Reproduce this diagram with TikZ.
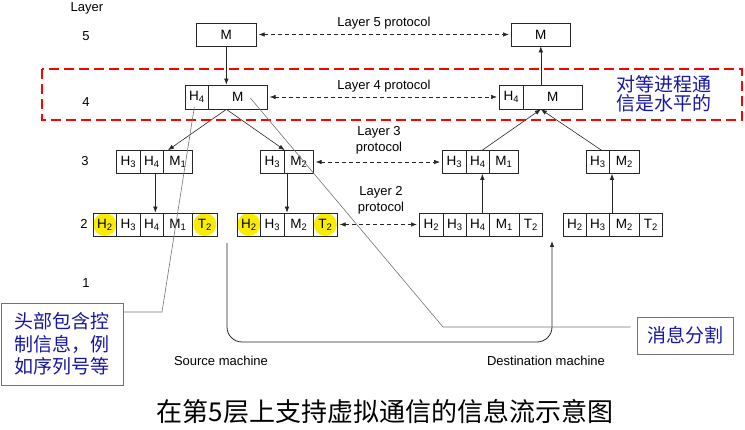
\documentclass[tikz,border=0pt]{standalone}
\usepackage{fontspec}
\setmainfont{Liberation Sans}
\newfontfamily\cjk{Noto Sans CJK SC}
\usetikzlibrary{arrows.meta,calc,backgrounds}
\definecolor{cnblue}{RGB}{22,22,165}
\definecolor{hl}{RGB}{250,236,0}
\definecolor{peerred}{RGB}{255,0,0}
\begin{document}
\begin{tikzpicture}[x=1pt,y=-1pt,
  cell/.style={draw=black!85, line width=0.7pt, minimum height=23pt, inner sep=0pt, anchor=west, font=\fontsize{13.5}{14}\selectfont},
  lbl/.style={font=\fontsize{13}{15}\selectfont, align=center, inner sep=0pt},
  arr/.style={-{Latex[length=6pt,width=4.5pt]}, line width=0.6pt, draw=black!85},
  dbl/.style={{Latex[length=6pt,width=4.5pt]}-{Latex[length=6pt,width=4.5pt]}, dash pattern=on 4pt off 3pt, line width=0.6pt, draw=black!85, shorten <=2pt, shorten >=2pt},
  lead/.style={draw=black!55, line width=0.6pt},
  callout/.style={draw=black!55, line width=0.8pt, text=cnblue, align=center, inner sep=0pt, font=\cjk\fontsize{19}{22.5}\selectfont},
  cnlabel/.style={text=cnblue, align=center, inner sep=0pt, font=\cjk\fontsize{19}{18.5}\selectfont}
]
\useasboundingbox (0,0) rectangle (745,430);

% layer labels
\node[lbl] (lay) at (87,8) {Layer};
\node[lbl] (n5) at (86,36) {5};
\node[lbl] (n4) at (86,102) {4};
\node[lbl] (n3) at (85,161) {3};
\node[lbl] (n2) at (84,224) {2};
\node[lbl] (n1) at (86,283) {1};

% layer 5
\node[cell, minimum width=60pt] (l5a) at (196,34.5) {M};
\node[cell, minimum width=59pt] (l5b) at (511,34.5) {M};

% layer 4
\node[cell, minimum width=23pt, minimum height=24pt] (l4aH) at (185,97) {H\textsubscript{4}};
\node[cell, minimum width=59pt, minimum height=24pt] (l4aM) at (208,97) {M};
\node[cell, minimum width=24pt, minimum height=24pt] (l4bH) at (499,97) {H\textsubscript{4}};
\node[cell, minimum width=59pt, minimum height=24pt] (l4bM) at (523,97) {M};

% layer 3
\begin{scope}[every node/.append style={minimum height=22pt}]
\node[cell, minimum width=24pt] (l3aH3) at (116,162) {H\textsubscript{3}};
\node[cell, minimum width=23pt] (l3aH4) at (140,162) {H\textsubscript{4}};
\node[cell, minimum width=29pt] (l3aM) at (163,162) {M\textsubscript{1}};
\node[cell, minimum width=24pt] (l3bH3) at (260,162) {H\textsubscript{3}};
\node[cell, minimum width=29pt] (l3bM) at (284,162) {M\textsubscript{2}};
\node[cell, minimum width=24pt] (l3cH3) at (442,162) {H\textsubscript{3}};
\node[cell, minimum width=23pt] (l3cH4) at (466,162) {H\textsubscript{4}};
\node[cell, minimum width=29pt] (l3cM) at (489,162) {M\textsubscript{1}};
\node[cell, minimum width=23pt] (l3dH3) at (586,162) {H\textsubscript{3}};
\node[cell, minimum width=30pt] (l3dM) at (609,162) {M\textsubscript{2}};
\end{scope}

% layer 2
\node[cell, minimum width=23pt] (l2aH2) at (93,224.5) {H\textsubscript{2}};
\node[cell, minimum width=24pt] (l2aH3) at (116,224.5) {H\textsubscript{3}};
\node[cell, minimum width=23pt] (l2aH4) at (140,224.5) {H\textsubscript{4}};
\node[cell, minimum width=29pt] (l2aM) at (163,224.5) {M\textsubscript{1}};
\node[cell, minimum width=25pt] (l2aT) at (192,224.5) {T\textsubscript{2}};

\node[cell, minimum width=23pt] (l2bH2) at (237,224.5) {H\textsubscript{2}};
\node[cell, minimum width=24pt] (l2bH3) at (260,224.5) {H\textsubscript{3}};
\node[cell, minimum width=29pt] (l2bM) at (284,224.5) {M\textsubscript{2}};
\node[cell, minimum width=24pt] (l2bT) at (313,224.5) {T\textsubscript{2}};

\node[cell, minimum width=24pt] (l2cH2) at (419,224.5) {H\textsubscript{2}};
\node[cell, minimum width=23pt] (l2cH3) at (443,224.5) {H\textsubscript{3}};
\node[cell, minimum width=23pt] (l2cH4) at (466,224.5) {H\textsubscript{4}};
\node[cell, minimum width=30pt] (l2cM) at (489,224.5) {M\textsubscript{1}};
\node[cell, minimum width=23pt] (l2cT) at (519,224.5) {T\textsubscript{2}};

\node[cell, minimum width=23pt] (l2dH2) at (563,224.5) {H\textsubscript{2}};
\node[cell, minimum width=23pt] (l2dH3) at (586,224.5) {H\textsubscript{3}};
\node[cell, minimum width=30pt] (l2dM) at (609,224.5) {M\textsubscript{2}};
\node[cell, minimum width=23pt] (l2dT) at (639,224.5) {T\textsubscript{2}};

% yellow highlights
\begin{scope}[on background layer]
\fill[hl] (l2aH2.center) circle (11.5pt);
\fill[hl] (l2aT.center) circle (11.5pt);
\fill[hl] (l2bH2.center) circle (11.5pt);
\fill[hl] (l2bT.center) circle (11.5pt);
\end{scope}

% protocol labels
\node[lbl] (p5) at (384,23) {Layer 5 protocol};
\node[lbl] (p4) at (384,86) {Layer 4 protocol};
\node[lbl] (p3) at (379,140) {Layer 3\\[1pt]protocol};
\node[lbl] (p2) at (381,200.5) {Layer 2\\[1pt]protocol};

% peer dashed connectors
\draw[dbl] (l5a.east) -- (l5b.west);
\draw[dbl] (l4aM.east) -- (l4bH.west);
\draw[dbl] (l3bM.east) -- (l3cH3.west);
\draw[dbl] (l2bT.east) -- (l2cH2.west);

% vertical flow
\draw[arr] (l5a.south) -- (l5a.south |- l4aM.north);
\draw[arr] (l5b.south |- l4bM.north) -- (l5b.south);

\coordinate (apexA) at ($(l4aH.south west)!0.5!(l4aM.south east)$);
\coordinate (apexB) at ($(l4bH.south west)!0.5!(l4bM.south east)$);
\draw[arr] (apexA) -- ($(l3aM.north west)+(5,0)$);
\draw[arr] (apexA) -- (l3bH3.north east);
\draw[arr] ($(l3cH4.north)+(4.5,0)$) -- (apexB);
\draw[arr] ($(l3dH3.north)+(3.5,0)$) -- (apexB);

\draw[arr] ($(l3aH4.south)+(3.5,0)$) -- ($(l2aH4.north)+(3.5,0)$);
\draw[arr] ($(l3bM.south west)+(3,0)$) -- ($(l2bM.north west)+(3,0)$);
\draw[arr] ($(l2cH4.north)+(4.5,0)$) -- ($(l3cH4.south)+(4.5,0)$);
\draw[arr] ($(l2dM.north west)+(3,0)$) -- ($(l3dM.south west)+(3,0)$);

% physical path
\coordinate (srcTop) at (227,243);
\coordinate (dstTop) at (552,241);
\draw[arr, line width=0.8pt, rounded corners=15pt] (srcTop) -- (227,342) -- (552,342) -- (dstTop);
\node[lbl] (src) at (221,361) {Source machine};
\node[lbl] (dst) at (546,361) {Destination machine};

% peer box
\draw[peerred, line width=2.2pt, dash pattern=on 10pt off 5pt] (42,69) rectangle (742,120);
\node[cnlabel] (peer) at (663.5,94) {对等进程通\\信是水平的};

% callouts
\node[callout, minimum width=122pt, minimum height=82pt] (callA) at (62,344) {头部包含控\\制信息，例\\如序列号等};
\node[callout, minimum width=96pt, minimum height=37pt] (callB) at (685,335.5) {消息分割};

\coordinate (la1) at (162,312);
\draw[lead] ($(l4aH.center)+(-2.5,10)$) -- (la1) -- (la1 -| callA.east);
\coordinate (lb1) at (443,327);
\draw[lead] ($(l4aM.center)+(12.5,1)$) -- (lb1) -- ($(lb1 -| callB.west)+(-6,0)$);

% caption
\node[inner sep=0pt, font=\cjk\fontsize{26}{28}\selectfont] (cap) at (385,412) {在第5层上支持虚拟通信的信息流示意图};
\end{tikzpicture}
\end{document}
